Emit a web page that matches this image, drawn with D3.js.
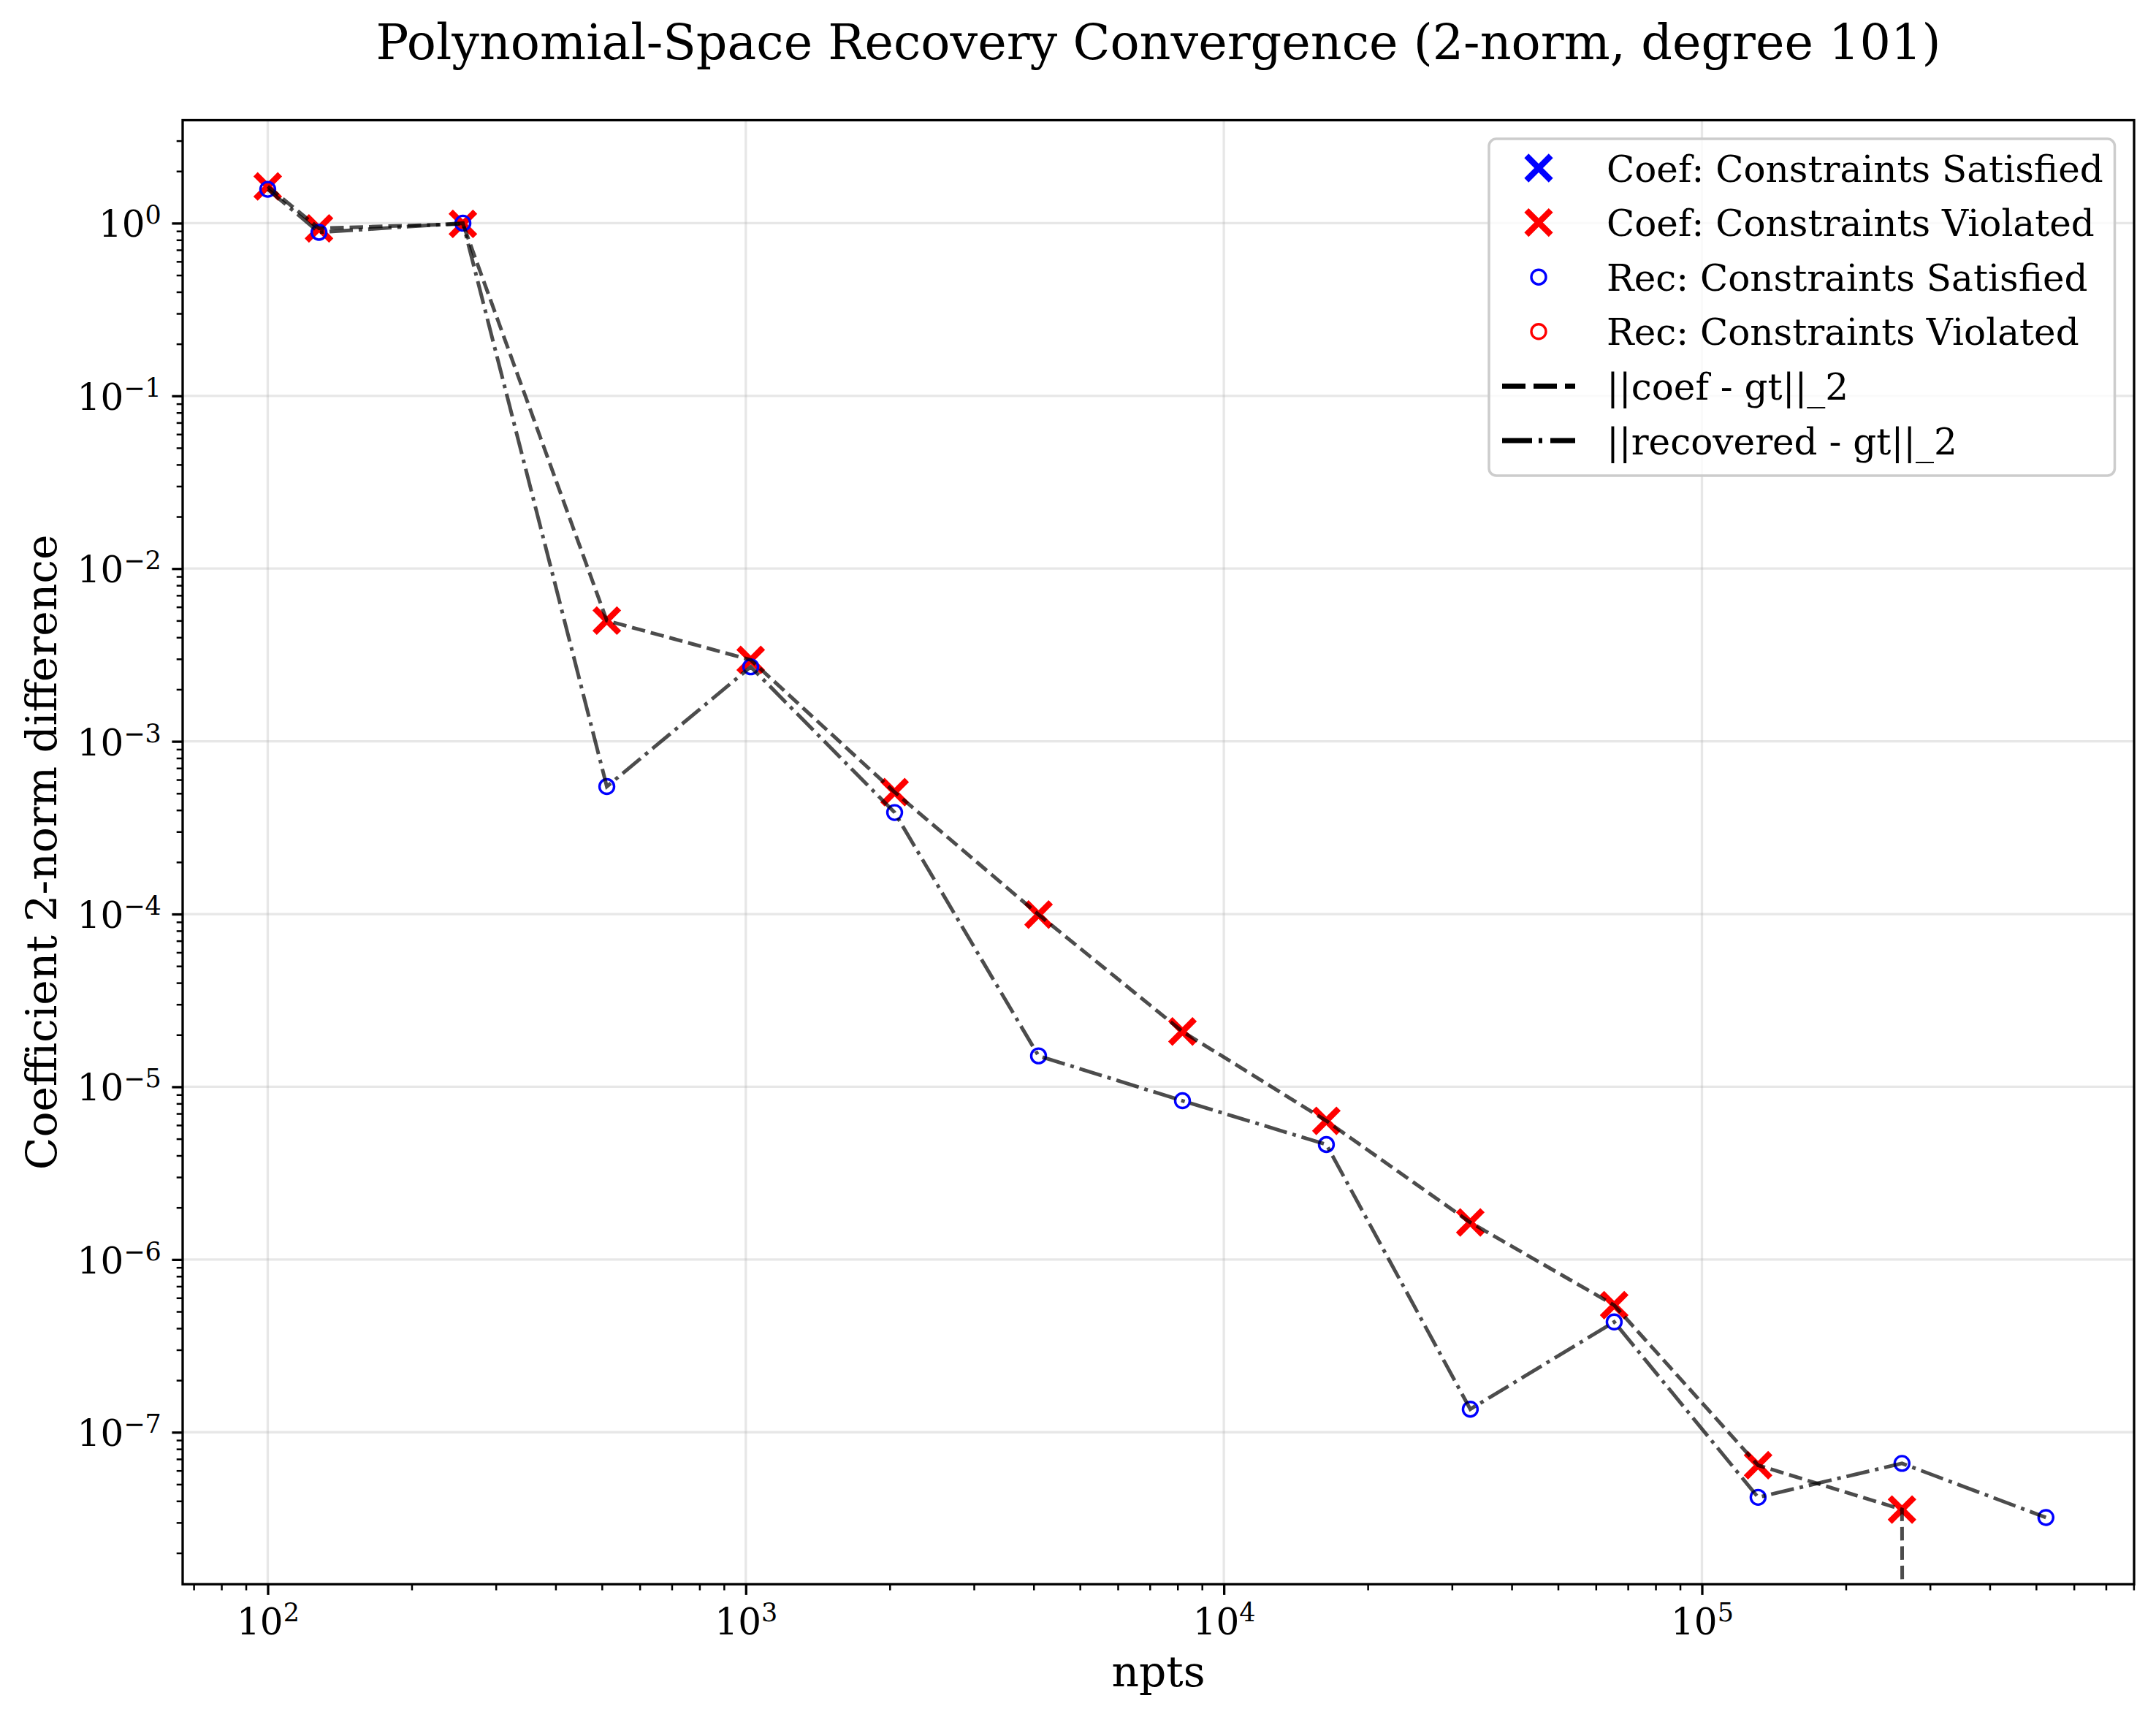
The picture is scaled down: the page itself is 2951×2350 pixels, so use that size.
<!DOCTYPE html>
<html>
<head>
<meta charset="utf-8">
<script src="https://cdn.jsdelivr.net/npm/d3@7"></script>
<style>
  html, body { margin: 0; padding: 0; background: #fff; }
  svg { display: block; }
  text { font-family: "DejaVu Serif", serif; fill: #000; }
</style>
</head>
<body>
<svg id="chart" width="2951" height="2350"></svg>
<script>
// ---------------- data ----------------
const npts = [100, 128, 256, 512, 1024, 2048, 4096, 8192, 16384, 32768, 65536, 131072, 262144, 524288];
const coefErr = [1.63, 0.933, 0.99, 5.0e-3, 2.96e-3, 5.08e-4, 9.93e-5, 2.09e-5, 6.35e-6, 1.64e-6, 5.44e-7, 6.44e-8, 3.57e-8, 0];
const recErr  = [1.57, 0.885, 1.0, 5.47e-4, 2.70e-3, 3.87e-4, 1.51e-5, 8.3e-6, 4.63e-6, 1.36e-7, 4.35e-7, 4.2e-8, 6.6e-8, 3.21e-8];
const coefSatisfied = [false, false, false, false, false, false, false, false, false, false, false, false, false, false];
const recSatisfied  = [true, true, true, true, true, true, true, true, true, true, true, true, true, true];

const xMajorExp = [2, 3, 4, 5];
const yMajorExp = [0, -1, -2, -3, -4, -5, -6, -7];

const titleText = "Polynomial-Space Recovery Convergence (2-norm, degree 101)";
const xLabelText = "npts";
const yLabelText = "Coefficient 2-norm difference";
const legendLabels = [
  "Coef: Constraints Satisfied",
  "Coef: Constraints Violated",
  "Rec: Constraints Satisfied",
  "Rec: Constraints Violated",
  "||coef - gt||_2",
  "||recovered - gt||_2"
];

// ---------------- layout ----------------
const L = 250, R = 2921, T = 164.5, B = 2168.3;
const svg = d3.select("#chart");

const x = d3.scaleLog().domain([Math.pow(10, 1.822), Math.pow(10, 5.904)]).range([L, R]);
const y = d3.scaleLog().domain([Math.pow(10, -7.880), Math.pow(10, 0.596)]).range([B, T]);

const xMajor = xMajorExp.map(e => Math.pow(10, e));
const yMajor = yMajorExp.map(e => Math.pow(10, e));
function minorTicks(scale) {
  const [a, b] = scale.domain();
  const lo = Math.floor(Math.log10(Math.min(a, b))), hi = Math.ceil(Math.log10(Math.max(a, b)));
  const out = [];
  for (let e = lo; e <= hi; e++) for (let m = 2; m <= 9; m++) {
    const v = m * Math.pow(10, e);
    if (v >= Math.min(a, b) && v <= Math.max(a, b)) out.push(v);
  }
  return out;
}

const COLOR_SAT = "#0000ff", COLOR_VIO = "#ff0000";

// clip
svg.append("defs").append("clipPath").attr("id", "plotclip")
  .append("rect").attr("x", L).attr("y", T).attr("width", R - L).attr("height", B - T);

// grid
const grid = svg.append("g");
grid.selectAll("line.gx").data(xMajor).enter().append("line")
  .attr("x1", d => x(d)).attr("x2", d => x(d)).attr("y1", T).attr("y2", B)
  .attr("stroke", "#b0b0b0").attr("stroke-opacity", 0.3).attr("stroke-width", 3.3);
grid.selectAll("line.gy").data(yMajor).enter().append("line")
  .attr("y1", d => y(d)).attr("y2", d => y(d)).attr("x1", L).attr("x2", R)
  .attr("stroke", "#b0b0b0").attr("stroke-opacity", 0.3).attr("stroke-width", 3.3);

// data
const plot = svg.append("g").attr("clip-path", "url(#plotclip)");
const pts = npts.map((n, i) => ({ n, coef: coefErr[i], rec: recErr[i], cs: coefSatisfied[i], rs: recSatisfied[i] }));
const clipVal = v => (v > 0 ? v : 1e-300);

const xr = 16.7;
function drawX(g, cx, cy, color) {
  g.append("path")
    .attr("d", `M${cx - xr},${cy - xr}L${cx + xr},${cy + xr}M${cx - xr},${cy + xr}L${cx + xr},${cy - xr}`)
    .attr("stroke", color).attr("stroke-width", 8.3).attr("fill", "none");
}
function drawO(g, cx, cy, color) {
  g.append("circle").attr("cx", cx).attr("cy", cy).attr("r", 10)
    .attr("fill", "none").attr("stroke", color).attr("stroke-width", 3.4);
}

pts.filter(d => d.coef > 0).forEach(d => drawX(plot, x(d.n), y(d.coef), d.cs ? COLOR_SAT : COLOR_VIO));
pts.filter(d => d.rec > 0).forEach(d => drawO(plot, x(d.n), y(d.rec), d.rs ? COLOR_SAT : COLOR_VIO));

const lineCoef = d3.line().x(d => x(d.n)).y(d => y(clipVal(d.coef)));
const lineRec = d3.line().x(d => x(d.n)).y(d => y(clipVal(d.rec)));
plot.append("path").datum(pts).attr("d", lineCoef)
  .attr("fill", "none").attr("stroke", "#000").attr("stroke-opacity", 0.7)
  .attr("stroke-width", 5).attr("stroke-dasharray", "18.5,8");
plot.append("path").datum(pts).attr("d", lineRec)
  .attr("fill", "none").attr("stroke", "#000").attr("stroke-opacity", 0.7)
  .attr("stroke-width", 5).attr("stroke-dasharray", "32,8,5,8");

// axes (ticks)
const xAxisMajor = d3.axisBottom(x).tickValues(xMajor).tickSize(14.6).tickSizeOuter(0).tickPadding(14.6).tickFormat(() => "");
const xAxisMinor = d3.axisBottom(x).tickValues(minorTicks(x)).tickSize(8.3).tickSizeOuter(0).tickFormat(() => "");
const yAxisMajor = d3.axisLeft(y).tickValues(yMajor).tickSize(14.6).tickSizeOuter(0).tickPadding(14.6).tickFormat(() => "");
const yAxisMinor = d3.axisLeft(y).tickValues(minorTicks(y)).tickSize(8.3).tickSizeOuter(0).tickFormat(() => "");

function styleAxis(g, w) {
  g.select(".domain").remove();
  g.selectAll(".tick line").attr("stroke", "#000").attr("stroke-width", w);
}
const gxMin = svg.append("g").attr("transform", `translate(0,${B})`).call(xAxisMinor); styleAxis(gxMin, 2.5);
const gxMaj = svg.append("g").attr("transform", `translate(0,${B})`).call(xAxisMajor); styleAxis(gxMaj, 3.3);
const gyMin = svg.append("g").attr("transform", `translate(${L},0)`).call(yAxisMinor); styleAxis(gyMin, 2.5);
const gyMaj = svg.append("g").attr("transform", `translate(${L},0)`).call(yAxisMajor); styleAxis(gyMaj, 3.3);

// tick labels with superscripts
function supLabel(textSel, exp) {
  textSel.text(null);
  textSel.append("tspan").text("10");
  textSel.append("tspan").attr("font-size", 35).attr("dy", -18)
    .text(exp < 0 ? "\u2212" + Math.abs(exp) : String(exp));
}
gxMaj.selectAll(".tick").each(function (d) {
  const t = d3.select(this).select("text");
  t.attr("font-size", 50).attr("font-family", "DejaVu Serif").attr("dy", null)
   .attr("y", 2236.7 - B).attr("text-anchor", "middle");
  supLabel(t, Math.round(Math.log10(d)));
});
gyMaj.selectAll(".tick").each(function (d) {
  const t = d3.select(this).select("text");
  t.attr("font-size", 50).attr("font-family", "DejaVu Serif").attr("dy", null)
   .attr("y", 18.5).attr("x", -29.2).attr("text-anchor", "end");
  supLabel(t, Math.round(Math.log10(d)));
});

// spines
svg.append("rect").attr("x", L).attr("y", T).attr("width", R - L).attr("height", B - T)
  .attr("fill", "none").attr("stroke", "#000").attr("stroke-width", 3.3);

// title and labels
svg.append("text").attr("x", (L + R) / 2).attr("y", 81).attr("text-anchor", "middle")
  .attr("font-size", 66.7).text(titleText);
svg.append("text").attr("x", (L + R) / 2).attr("y", 2308).attr("text-anchor", "middle")
  .attr("font-size", 58.3).text(xLabelText);
svg.append("text").attr("transform", `translate(77,${(T + B) / 2}) rotate(-90)`)
  .attr("text-anchor", "middle").attr("font-size", 58.3).text(yLabelText);

// legend
const lg = svg.append("g");
lg.append("rect").attr("x", 2038).attr("y", 190).attr("width", 2894.5 - 2038).attr("height", 651 - 190)
  .attr("rx", 10).attr("ry", 10).attr("fill", "#fff").attr("fill-opacity", 0.8)
  .attr("stroke", "#cccccc").attr("stroke-width", 3.5);
const rowY = i => 230 + i * 74.6;
const hx = 2106;
drawX(lg, hx, rowY(0), COLOR_SAT);
drawX(lg, hx, rowY(1), COLOR_VIO);
drawO(lg, hx, rowY(2), COLOR_SAT);
drawO(lg, hx, rowY(3), COLOR_VIO);
lg.append("line").attr("x1", 2056).attr("x2", 2156).attr("y1", rowY(4)).attr("y2", rowY(4))
  .attr("stroke", "#000").attr("stroke-width", 7).attr("stroke-dasharray", "32,11");
lg.append("line").attr("x1", 2056).attr("x2", 2156).attr("y1", rowY(5)).attr("y2", rowY(5))
  .attr("stroke", "#000").attr("stroke-width", 7).attr("stroke-dasharray", "41,9,5,11");
legendLabels.forEach((s, i) => {
  lg.append("text").attr("x", 2199).attr("y", rowY(i) + 18.5).attr("font-size", 50).text(s);
});
</script>
</body>
</html>
